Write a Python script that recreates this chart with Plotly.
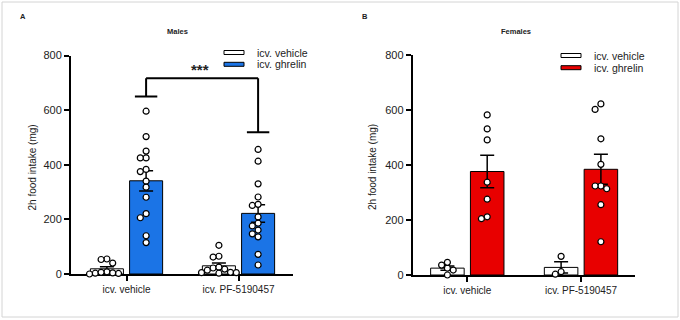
import plotly.graph_objects as go

# ---------------- data ----------------
groups = ["icv. vehicle", "icv. PF-5190457"]
treatments = ["icv. vehicle", "icv. ghrelin"]
panel_titles = ["Males", "Females"]
panel_letters = ["A", "B"]
y_ticks = [0, 200, 400, 600, 800]
y_title = "2h food intake (mg)"

male_veh_veh = [55, 53, 40, 3, 8, 2, 6, 0, 4]
male_veh_ghr = [596, 503, 450, 425, 425, 383, 375, 340, 318, 281, 221, 206, 140, 115]
male_pf_veh = [105, 65, 62, 22, 18, 25, 14, 5, 3, 6, 5]
male_pf_ghr = [456, 413, 330, 282, 251, 255, 209, 186, 176, 161, 136, 147, 72, 33]

female_veh_veh = [36, 0, 25, 46, 18]
female_veh_ghr = [583, 532, 492, 338, 276, 205, 212]
female_pf_veh = [68, 3, 12]
female_pf_ghr = [623, 603, 496, 403, 324, 324, 314, 256, 121]

# significance bracket (males, ghrelin bars)
sig_label = "***"
sig_top = 717
sig_left_end = 650
sig_right_end = 519
sig_text_y = 750

# ---------------- styling ----------------
FONT = "Arial, Liberation Sans, sans-serif"
W, H = 680, 320
colors_fill = [["white", "#1b74e6"], ["white", "#e80000"]]
bar_offset = 0.175
bar_width = 0.295
dot_d = 5.8

panels = [
    dict(data=[[male_veh_veh, male_veh_ghr], [male_pf_veh, male_pf_ghr]],
         x_px=(71, 293), y_px=(274, 55.5), centers=(126.5, 238.5),
         title_x=32, leg_sym_x=224, leg_txt_x=255, leg_y=(52.5, 64.3)),
    dict(data=[[female_veh_veh, female_veh_ghr], [female_pf_veh, female_pf_ghr]],
         x_px=(412.7, 635), y_px=(275, 55.3), centers=(467.3, 581),
         title_x=372.5, leg_sym_x=561, leg_txt_x=592, leg_y=(55.5, 67.7)),
]


def mean(v):
    return sum(v) / len(v)


def sem(v):
    m = mean(v)
    if len(v) < 2:
        return 0
    sd = (sum((a - m) ** 2 for a in v) / (len(v) - 1)) ** 0.5
    return sd / len(v) ** 0.5


def swarm(values, xppu, yppu, d):
    """deterministic beeswarm offsets (in x data units)"""
    placed = []
    offs = [0.0] * len(values)
    order = sorted(range(len(values)), key=lambda i: -values[i])
    cands = [0]
    for s in range(1, 12):
        cands += [-s, s]
    for i in order:
        y = values[i] * yppu
        x = 0.0
        for c in cands:
            x = c * d
            if all((x - px) ** 2 + (y - py) ** 2 >= (d * 0.97) ** 2 for px, py in placed):
                break
        placed.append((x, y))
        offs[i] = x / xppu
    return offs


fig = go.Figure()
shapes = []
annotations = []

for p, pan in enumerate(panels):
    ax = "" if p == 0 else str(p + 1)
    xref, yref = "x" + ax, "y" + ax
    x0px, x1px = pan["x_px"]
    y0px, y1px = pan["y_px"]
    c0, c1 = pan["centers"]
    xppu = c1 - c0
    yppu = (y0px - y1px) / 800.0
    xr = [(x0px - c0) / xppu, (x1px - c0) / xppu]

    for t in range(2):
        off = -bar_offset if t == 0 else bar_offset
        xs = [g + off for g in range(len(groups))]
        vals = [pan["data"][g][t] for g in range(len(groups))]
        fig.add_trace(go.Bar(
            x=xs, y=[mean(v) for v in vals], width=bar_width,
            marker=dict(color=colors_fill[p][t], line=dict(color="black", width=1)),
            error_y=dict(type="data", array=[sem(v) for v in vals], symmetric=True,
                         color="black", thickness=1.5, width=7),
            xaxis=xref, yaxis=yref, showlegend=False, hoverinfo="skip"))
        for g in range(len(groups)):
            v = vals[g]
            offs = swarm(v, xppu, yppu, dot_d)
            fig.add_trace(go.Scatter(
                x=[g + off + o for o in offs], y=v, mode="markers",
                marker=dict(size=6, color="white", line=dict(color="black", width=1.2)),
                cliponaxis=False, xaxis=xref, yaxis=yref, showlegend=False,
                hoverinfo="skip"))

    dom_x = [x0px / W, x1px / W]
    dom_y = [1 - y0px / H, 1 - y1px / H]
    fig.update_layout(**{
        "xaxis" + ax: dict(domain=dom_x, range=xr, tickvals=list(range(len(groups))),
                           ticktext=groups, ticks="outside", ticklen=5, tickwidth=2,
                           tickcolor="black", showline=True, linewidth=2, linecolor="black",
                           showgrid=False, zeroline=False, fixedrange=True, automargin=False,
                           tickfont=dict(family=FONT, size=10, color="#222"),
                           anchor=yref, layer="below traces"),
        "yaxis" + ax: dict(domain=dom_y, range=[0, 800], tickvals=y_ticks,
                           ticks="outside", ticklen=5, tickwidth=2, tickcolor="black",
                           showline=True, linewidth=2, linecolor="black",
                           showgrid=False, zeroline=False, fixedrange=True, automargin=False,
                           tickfont=dict(family=FONT, size=11, color="#222"),
                           anchor=xref, layer="below traces"),
    })

    # y axis title
    annotations.append(dict(text=y_title, x=pan["title_x"] / W, y=1 - 167.5 / H,
                            xref="paper", yref="paper", showarrow=False, textangle=-90,
                            font=dict(family=FONT, size=10, color="#222"),
                            xanchor="center", yanchor="middle"))
    # panel title and letter
    annotations.append(dict(text="<b>%s</b>" % panel_titles[p],
                            x=(177 if p == 0 else 516) / W,
                            y=1 - 31 / H, xref="paper", yref="paper", showarrow=False,
                            font=dict(family=FONT, size=7.5, color="#222"),
                            xanchor="center", yanchor="middle"))
    annotations.append(dict(text="<b>%s</b>" % panel_letters[p], x=(x0px - 48) / W,
                            y=1 - 17 / H, xref="paper", yref="paper", showarrow=False,
                            font=dict(family=FONT, size=7.5, color="#222"),
                            xanchor="center", yanchor="middle"))

    # legend (manual)
    for t in range(2):
        ly = pan["leg_y"][t]
        shapes.append(dict(type="rect", xref="paper", yref="paper",
                           x0=pan["leg_sym_x"] / W, x1=(pan["leg_sym_x"] + 20) / W,
                           y0=1 - (ly - 2) / H, y1=1 - (ly + 2) / H,
                           fillcolor=colors_fill[p][t], line=dict(color="black", width=1)))
        annotations.append(dict(text=treatments[t], x=pan["leg_txt_x"] / W, y=1 - ly / H,
                                xref="paper", yref="paper", showarrow=False,
                                xanchor="left", yanchor="middle",
                                font=dict(family=FONT, size=10.5, color="#222")))

    if p == 0:
        xl = bar_offset
        xrr = 1 + bar_offset
        cap = 0.1
        line = dict(color="black", width=2)
        shapes += [
            dict(type="line", xref=xref, yref=yref, x0=xl, x1=xl, y0=sig_left_end, y1=sig_top, line=line),
            dict(type="line", xref=xref, yref=yref, x0=xl, x1=xrr, y0=sig_top, y1=sig_top, line=line),
            dict(type="line", xref=xref, yref=yref, x0=xrr, x1=xrr, y0=sig_top, y1=sig_right_end, line=line),
            dict(type="line", xref=xref, yref=yref, x0=xl - cap, x1=xl + cap, y0=sig_left_end, y1=sig_left_end, line=line),
            dict(type="line", xref=xref, yref=yref, x0=xrr - cap, x1=xrr + cap, y0=sig_right_end, y1=sig_right_end, line=line),
        ]
        annotations.append(dict(text="<b>%s</b>" % sig_label, x=(xl + xrr) / 2 - 0.015, y=sig_text_y,
                                xref=xref, yref=yref, showarrow=False,
                                font=dict(family=FONT, size=15, color="#222"),
                                xanchor="center", yanchor="middle"))

# outer frame
shapes.append(dict(type="rect", xref="paper", yref="paper", x0=2 / W, x1=678 / W,
                   y0=1 - 317 / H, y1=1 - 2 / H, line=dict(color="#d4d4d4", width=1),
                   fillcolor="rgba(0,0,0,0)", layer="below"))

fig.update_layout(width=W, height=H, autosize=False,
                  margin=dict(l=0, r=0, t=0, b=0, pad=0),
                  paper_bgcolor="white", plot_bgcolor="white",
                  barmode="overlay", shapes=shapes, annotations=annotations,
                  showlegend=False)

fig.write_html("out.html", config={"displayModeBar": False},
               post_script="document.body.style.margin='0px';document.body.style.overflow='hidden';")
